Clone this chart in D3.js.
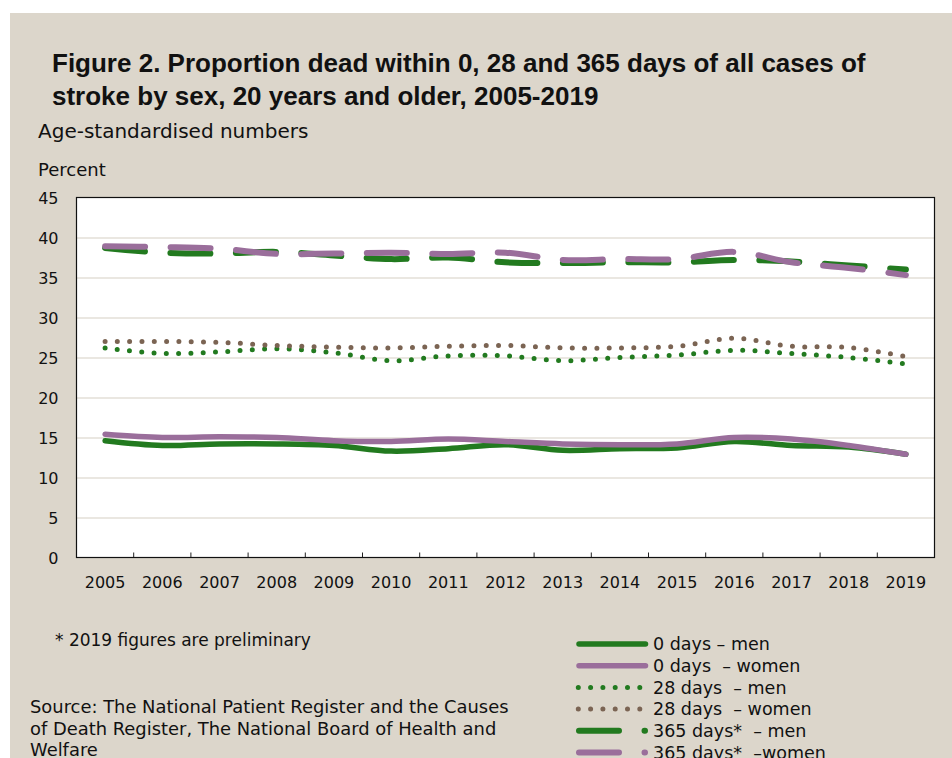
<!DOCTYPE html>
<html>
<head>
<meta charset="utf-8">
<script src="https://cdn.jsdelivr.net/npm/d3@7"></script>
<style>
  body { margin: 0; background: #fff; }
  text { font-family: "DejaVu Sans", sans-serif; fill: #111; }
  .title { font-family: "Liberation Sans", Arial, sans-serif; font-weight: bold; font-size: 26px; }
  .legend text, .note { white-space: pre; }
</style>
</head>
<body>
<svg id="chart" width="952" height="758"></svg>
<script>
// DATA
const years = ["2005","2006","2007","2008","2009","2010","2011","2012","2013","2014","2015","2016","2017","2018","2019"];
const yTicks = [0, 5, 10, 15, 20, 25, 30, 35, 40, 45];

const day0Men    = [14.6, 14.0, 14.2, 14.2, 14.0, 13.3, 13.6, 14.1, 13.4, 13.6, 13.7, 14.5, 14.0, 13.8, 12.9];
const day0Women  = [15.4, 15.0, 15.1, 15.0, 14.6, 14.5, 14.8, 14.5, 14.2, 14.1, 14.2, 15.0, 14.8, 14.0, 12.9];
const day28Men   = [26.2, 25.5, 25.7, 26.1, 25.6, 24.6, 25.2, 25.2, 24.6, 25.0, 25.3, 25.9, 25.5, 25.0, 24.2];
const day28Women = [27.0, 27.0, 26.9, 26.5, 26.3, 26.2, 26.4, 26.5, 26.2, 26.2, 26.4, 27.4, 26.4, 26.25, 25.1];
const day365Men  = [38.7, 38.1, 38.0, 38.2, 37.75, 37.3, 37.5, 36.9, 36.8, 36.9, 36.9, 37.2, 37.0, 36.5, 36.0];
const day365Women= [38.9, 38.8, 38.6, 37.95, 38.0, 38.1, 37.95, 38.1, 37.2, 37.3, 37.3, 38.2, 36.9, 36.2, 35.3];

const green = "#227a1f", purple = "#9a6e9b", brown = "#7b6453";

const series = [
    { name: "0 days – men",       values: day0Men,     color: green,  style: "solid" },
    { name: "0 days  – women",    values: day0Women,   color: purple, style: "solid" },
    { name: "28 days  – men",     values: day28Men,    color: green,  style: "dot" },
    { name: "28 days  – women",   values: day28Women,  color: brown,  style: "dot" },
    { name: "365 days*  – men",   values: day365Men,   color: green,  style: "dash" },
    { name: "365 days*  –women",  values: day365Women, color: purple, style: "dash" }
];

const svg = d3.select("#chart"),
    width = +svg.attr("width"),
    height = +svg.attr("height");

const plot = { left: 76.5, top: 197.5, right: 934.5, bottom: 557.5 };

// background panel
svg.append("rect")
    .attr("x", 10).attr("y", 13)
    .attr("width", width - 10).attr("height", height - 13)
    .attr("fill", "#dcd6cb");

svg.append("rect")
    .attr("x", plot.left).attr("y", plot.top)
    .attr("width", plot.right - plot.left).attr("height", plot.bottom - plot.top)
    .attr("fill", "#fff");

// titles
const t1 = svg.append("text").attr("class", "title").attr("x", 52).attr("y", 72)
    .text("Figure 2. Proportion dead within 0, 28 and 365 days of all cases of");
const t2 = svg.append("text").attr("class", "title").attr("x", 52).attr("y", 105)
    .text("stroke by sex, 20 years and older, 2005-2019");
// shrink title so the first line ends where the original does
const fit = 836 / t1.node().getComputedTextLength();
if (fit < 1) {
    t1.style("font-size", (26 * fit) + "px");
    t2.style("font-size", (26 * fit) + "px");
}

svg.append("text").attr("x", 38).attr("y", 138).style("font-size", "20px")
    .text("Age-standardised numbers");
svg.append("text").attr("x", 38).attr("y", 176).style("font-size", "18px")
    .text("Percent");

// scales
const x = d3.scaleBand().domain(years).range([plot.left, plot.right]);
const y = d3.scaleLinear().domain([0, 45]).range([plot.bottom, plot.top]);
const cx = d => x(d) + x.bandwidth() / 2;

// gridlines
svg.append("g")
    .attr("transform", `translate(${plot.left},0)`)
    .call(d3.axisLeft(y).tickValues(yTicks.slice(1, -1)).tickSize(-(plot.right - plot.left)).tickFormat(""))
    .call(g => g.select(".domain").remove())
    .call(g => g.selectAll("line").attr("stroke", "#e3dfd7").attr("stroke-width", 1.5));

// y labels
svg.append("g")
    .attr("transform", `translate(${plot.left - 18},0)`)
    .call(d3.axisLeft(y).tickValues(yTicks).tickSize(0))
    .call(g => g.select(".domain").remove())
    .call(g => g.selectAll("text").attr("x", 0).attr("dy", "0.35em")
        .style("font-family", "DejaVu Sans, sans-serif").style("font-size", "16px").attr("fill", "#111"));

// x labels
svg.append("g")
    .attr("transform", `translate(0,${plot.bottom + 16})`)
    .call(d3.axisBottom(x).tickSize(0))
    .call(g => g.select(".domain").remove())
    .call(g => g.selectAll("text").attr("y", 0).attr("dy", "0.9em")
        .style("font-family", "DejaVu Sans, sans-serif").style("font-size", "16px").attr("fill", "#111"));

// ticks at band edges, pointing up into the plot
svg.append("g").selectAll("line").data(years.slice(1))
    .join("line")
    .attr("x1", d => x(d)).attr("x2", d => x(d))
    .attr("y1", plot.bottom).attr("y2", plot.bottom - 5)
    .attr("stroke", "#222").attr("stroke-width", 1);

// border
svg.append("rect")
    .attr("x", plot.left).attr("y", plot.top)
    .attr("width", plot.right - plot.left).attr("height", plot.bottom - plot.top)
    .attr("fill", "none").attr("stroke", "#111").attr("stroke-width", 1.2);

// lines
const line = d3.line()
    .x((d, i) => cx(years[i]))
    .y(d => y(d))
    .curve(d3.curveCatmullRom.alpha(0.5));

function styleLine(sel, s) {
    sel.attr("fill", "none")
        .attr("stroke", s.color)
        .attr("stroke-linecap", "round")
        .attr("stroke-linejoin", "round");
    if (s.style === "solid") sel.attr("stroke-width", 5.5);
    if (s.style === "dot") sel.attr("stroke-width", 5).attr("stroke-dasharray", "0 12.3");
    if (s.style === "dash") sel.attr("stroke-width", 6).attr("stroke-dasharray", "40 25.5");
}

series.forEach(s => {
    svg.append("path").datum(s.values).attr("d", line).call(styleLine, s);
});

// legend
const legend = svg.append("g").attr("class", "legend");
series.forEach((s, i) => {
    const ly = 644 + i * 21.7;
    const x2 = s.style === "dash" ? 645 : (s.style === "dot" ? 641 : 645.5);
    legend.append("line")
        .attr("x1", s.style === "dot" ? 578.3 : 579).attr("x2", x2)
        .attr("y1", ly).attr("y2", ly)
        .call(styleLine, s);
    legend.append("text")
        .attr("x", 653).attr("y", ly).attr("dy", "0.35em")
        .style("font-size", "17.5px")
        .text(s.name);
});

// notes
svg.append("text").attr("class", "note").attr("x", 55).attr("y", 646).style("font-size", "17px")
    .text("* 2019 figures are preliminary");
const source = ["Source: The National Patient Register and the Causes",
    "of Death Register, The National Board of Health and",
    "Welfare"];
svg.append("g").selectAll("text").data(source)
    .join("text")
    .attr("x", 30)
    .attr("y", (d, i) => 713 + i * 21.7)
    .style("font-size", "17.9px")
    .text(d => d);
</script>
</body>
</html>
